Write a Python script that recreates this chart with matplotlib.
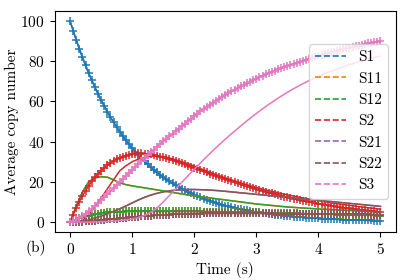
import numpy as np
import matplotlib
matplotlib.use("Agg")
import matplotlib.pyplot as plt
from matplotlib.lines import Line2D

plt.rcParams['font.family'] = ['cmr10', 'DejaVu Serif']
plt.rcParams['mathtext.fontset'] = 'cm'
plt.rcParams['axes.formatter.use_mathtext'] = True
plt.rcParams['font.size'] = 11

species = ['S1', 'S11', 'S12', 'S2', 'S21', 'S22', 'S3']
colors = ['#1f77b4', '#ff7f0e', '#2ca02c', '#d62728', '#9467bd', '#8c564b', '#e377c2']

# time grids
t_fine = np.round(np.arange(101) * 0.05, 2)
t_coarse = np.round(np.arange(51) * 0.1, 1)

# ---- marked (+) series, every 0.05 s ----
S1_mark = [100, 95.12, 90.48, 86.07, 81.87, 77.88, 74.08, 70.47, 67.03, 63.76,
           60.65, 57.69, 54.88, 52.20, 49.66, 47.24, 44.93, 42.74, 40.66, 38.67,
           36.79, 34.99, 33.29, 31.67, 30.12, 28.65, 27.25, 25.92, 24.66, 23.46,
           22.31, 21.22, 20.19, 19.20, 18.27, 17.38, 16.53, 15.72, 14.96, 14.23,
           13.53, 12.87, 12.25, 11.65, 11.08, 10.54, 10.03, 9.54, 9.07, 8.63,
           8.21, 7.81, 7.43, 7.07, 6.72, 6.39, 6.08, 5.78, 5.50, 5.23,
           4.98, 4.74, 4.50, 4.28, 4.08, 3.88, 3.69, 3.51, 3.34, 3.17,
           3.02, 2.87, 2.73, 2.60, 2.47, 2.35, 2.24, 2.13, 2.02, 1.93,
           1.83, 1.74, 1.66, 1.58, 1.50, 1.43, 1.36, 1.29, 1.23, 1.17,
           1.11, 1.06, 1.01, 0.96, 0.91, 0.87, 0.82, 0.78, 0.74, 0.71, 0.67]
S12_mark = [0, 0.6, 1.2, 1.8, 2.3, 2.8, 3.2, 3.6, 3.9, 4.2,
            4.4, 4.6, 4.8, 4.9, 5.0, 5.1, 5.2, 5.2, 5.3, 5.3,
            5.3, 5.3, 5.3, 5.3, 5.3, 5.3, 5.3, 5.3, 5.3, 5.3,
            5.3, 5.3, 5.3, 5.3, 5.3, 5.3, 5.3, 5.3, 5.3, 5.3,
            5.3, 5.28, 5.26, 5.24, 5.22, 5.2, 5.18, 5.16, 5.14, 5.12,
            5.1, 5.07, 5.04, 5.01, 4.98, 4.95, 4.92, 4.89, 4.86, 4.83,
            4.8, 4.76, 4.72, 4.68, 4.64, 4.6, 4.56, 4.52, 4.48, 4.44,
            4.4, 4.36, 4.32, 4.28, 4.24, 4.2, 4.16, 4.12, 4.08, 4.04,
            4.0, 3.96, 3.92, 3.88, 3.84, 3.8, 3.76, 3.72, 3.68, 3.64,
            3.6, 3.56, 3.52, 3.48, 3.44, 3.4, 3.36, 3.32, 3.28, 3.24, 3.2]
S11_mark = S12_mark
S2_mark = [0, 3.6, 7.0, 10.1, 13.0, 15.6, 18.0, 20.2, 22.2, 24.0,
           25.6, 27.0, 28.3, 29.4, 30.4, 31.3, 32.0, 32.6, 33.1, 33.5,
           33.8, 34.0, 34.1, 34.1, 34.0, 33.8, 33.6, 33.3, 33.0, 32.6,
           32.2, 31.8, 31.3, 30.8, 30.3, 29.8, 29.2, 28.7, 28.1, 27.5,
           27.0, 26.4, 25.8, 25.2, 24.7, 24.1, 23.5, 23.0, 22.4, 21.9,
           21.3, 20.8, 20.3, 19.8, 19.3, 18.8, 18.3, 17.8, 17.3, 16.9,
           16.4, 16.0, 15.5, 15.1, 14.7, 14.3, 13.9, 13.5, 13.1, 12.7,
           12.4, 12.0, 11.7, 11.3, 11.0, 10.7, 10.4, 10.1, 9.8, 9.5,
           9.2, 8.9, 8.7, 8.4, 8.2, 7.9, 7.7, 7.4, 7.2, 7.0,
           6.8, 6.6, 6.4, 6.2, 6.0, 5.8, 5.6, 5.5, 5.3, 5.1, 5.0]
S22_mark = [0, 0.02, 0.07, 0.15, 0.25, 0.35, 0.45, 0.55, 0.7, 0.85,
            1.0, 1.15, 1.3, 1.45, 1.6, 1.75, 1.9, 2.05, 2.2, 2.35,
            2.5, 2.62, 2.74, 2.86, 2.98, 3.1, 3.2, 3.3, 3.4, 3.5,
            3.6, 3.68, 3.76, 3.84, 3.9, 3.96, 4.02, 4.07, 4.12, 4.16,
            4.2, 4.22, 4.24, 4.26, 4.27, 4.28, 4.29, 4.3, 4.3, 4.3,
            4.3, 4.3, 4.3, 4.3, 4.3, 4.3, 4.3, 4.3, 4.3, 4.3,
            4.3, 4.29, 4.28, 4.27, 4.26, 4.25, 4.24, 4.23, 4.22, 4.21,
            4.2, 4.18, 4.17, 4.15, 4.14, 4.12, 4.11, 4.09, 4.08, 4.06,
            4.05, 4.03, 4.02, 4.0, 3.99, 3.97, 3.96, 3.94, 3.93, 3.91,
            3.9, 3.88, 3.86, 3.84, 3.82, 3.8, 3.78, 3.76, 3.74, 3.72, 3.7]
S21_mark = S22_mark
S3_mark = [0, 0.5, 1.2, 2.0, 3.0, 4.1, 5.3, 6.6, 8.0, 9.4,
           10.9, 12.4, 13.9, 15.4, 16.9, 18.4, 19.9, 21.4, 22.9, 24.4,
           25.9, 27.4, 28.9, 30.4, 31.8, 33.2, 34.6, 36.0, 37.4, 38.8,
           40.1, 41.4, 42.7, 44.0, 45.3, 46.5, 47.7, 48.9, 50.1, 51.3,
           52.6, 53.8, 55.0, 56.1, 57.2, 58.3, 59.3, 60.3, 61.3, 62.3,
           63.2, 64.1, 65.0, 65.9, 66.7, 67.5, 68.3, 69.1, 69.9, 70.6,
           71.3, 72.0, 72.7, 73.4, 74.0, 74.7, 75.3, 75.9, 76.5, 77.1,
           77.7, 78.2, 78.8, 79.3, 79.8, 80.3, 80.8, 81.3, 81.8, 82.3,
           82.7, 83.2, 83.6, 84.0, 84.4, 84.8, 85.2, 85.6, 86.0, 86.4,
           86.7, 87.1, 87.4, 87.8, 88.1, 88.4, 88.8, 89.1, 89.4, 89.7, 90.0]

# ---- solid series, every 0.1 s ----
S1_line = [100, 90.48, 81.87, 74.08, 67.03, 60.65, 54.88, 49.66, 44.93, 40.66,
           36.79, 33.29, 30.12, 27.25, 24.66, 22.31, 20.19, 18.27, 16.53, 14.96,
           13.53, 12.25, 11.08, 10.03, 9.07, 8.21, 7.43, 6.72, 6.08, 5.50,
           4.98, 4.50, 4.08, 3.69, 3.34, 3.02, 2.73, 2.47, 2.24, 2.02,
           1.83, 1.66, 1.50, 1.36, 1.23, 1.11, 1.01, 0.91, 0.82, 0.74, 0.67]
S12_line = [0, 8, 15, 20, 22, 22.5, 22.3, 21, 19.5, 18.6,
            18, 17.5, 17, 16.5, 16, 15.5, 15, 14.5, 14, 13.5,
            13, 12.6, 12.2, 11.8, 11.4, 11, 10.6, 10.2, 9.8, 9.4,
            9, 8.7, 8.4, 8.1, 7.8, 7.5, 7.3, 7.1, 6.9, 6.7,
            6.5, 6.35, 6.2, 6.05, 5.9, 5.8, 5.6, 5.45, 5.3, 5.15, 5.0]
S11_line = S12_line
S2_line = [0, 0, 0.8, 3.5, 7.5, 12, 16.5, 21, 25.5, 28,
           30, 31.3, 32.2, 32.7, 32.8, 32.5, 31.9, 31, 30, 29,
           27.8, 26.6, 25.4, 24.2, 23.1, 22, 21, 20, 19, 18.1,
           17.2, 16.4, 15.6, 14.9, 14.2, 13.5, 12.9, 12.3, 11.7, 11.1,
           10.6, 10.1, 9.6, 9.1, 8.7, 8.3, 7.9, 7.5, 7.1, 6.8, 6.4]
S22_line = [0, 0, 0.3, 1.0, 2.0, 3.0, 4.1, 5.3, 6.6, 8.0,
            9.5, 11, 12.3, 13.4, 14.3, 15, 15.5, 15.9, 16.1, 16.2,
            16.2, 16.1, 16, 15.8, 15.6, 15.3, 15, 14.7, 14.4, 14.1,
            13.8, 13.5, 13.2, 12.9, 12.6, 12.3, 12, 11.7, 11.4, 11.1,
            10.8, 10.5, 10.2, 9.9, 9.6, 9.3, 9.0, 8.7, 8.4, 8.1, 7.8]
S21_line = S22_line
S3_line = [0, 0, 0, 0, 0.1, 0.2, 0.3, 0.5, 0.8, 1.1,
           1.5, 2.2, 3.3, 4.8, 7.0, 10.0, 13.2, 16.5, 19.8, 23.0,
           26.2, 29.4, 32.5, 35.5, 38.4, 41.2, 43.9, 46.5, 49.1, 51.6,
           54.0, 56.3, 58.5, 60.6, 62.6, 64.5, 66.3, 68.0, 69.6, 71.1,
           72.5, 73.8, 75.0, 76.1, 77.2, 78.2, 79.2, 80.1, 81.0, 81.8, 82.6]

marked = [S1_mark, S11_mark, S12_mark, S2_mark, S21_mark, S22_mark, S3_mark]
lines = [S1_line, S11_line, S12_line, S2_line, S21_line, S22_line, S3_line]

fig = plt.figure(figsize=(4.07, 2.8), dpi=100)
ax = fig.add_axes([0.134, 0.171, 0.839, 0.790])

for name, c, ym, yl in zip(species, colors, marked, lines):
    ax.plot(t_fine, ym, color=c, marker='+', markersize=5.5, markeredgewidth=1.1,
            linewidth=1.1)
    ax.plot(t_coarse, yl, color=c, linewidth=1.1)

handles = [Line2D([], [], color=c, linestyle='--', linewidth=1.2) for c in colors]
ax.legend(handles, species, loc='center right', fontsize=11)

ax.set_xlabel('Time (s)')
ax.set_ylabel('Average copy number')
ax.yaxis.set_label_coords((19 - 54.5) / 341.5, 0.5)
ax.set_xlim(-0.25, 5.25)
ax.set_ylim(-5, 105)
ax.set_xticks([0, 1, 2, 3, 4, 5])
ax.set_yticks([0, 20, 40, 60, 80, 100])

fig.text(36 / 407, 1 - 248 / 280, '(b)', ha='center', va='center', fontsize=11)

fig.savefig('out.png', dpi=100)
